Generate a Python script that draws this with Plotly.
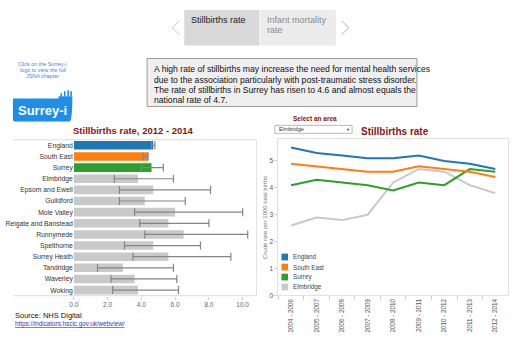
import plotly.graph_objects as go

# ---------------- data ----------------
areas = ["England", "South East", "Surrey", "Elmbridge", "Epsom and Ewell", "Guildford",
         "Mole Valley", "Reigate and Banstead", "Runnymede", "Spelthorne", "Surrey Heath",
         "Tandridge", "Waverley", "Woking"]
rate_2012_2014 = [4.7, 4.4, 4.6, 3.8, 4.7, 4.2, 6.0, 5.6, 6.5, 4.7, 5.6, 2.9, 3.6, 3.8]
ci_lower = [4.6, 4.1, 4.0, 2.4, 2.7, 2.7, 3.6, 3.9, 4.2, 3.0, 3.5, 1.4, 2.2, 2.3]
ci_upper = [4.8, 4.4, 5.3, 5.9, 8.1, 6.6, 10.0, 8.0, 10.3, 7.5, 9.3, 5.9, 6.1, 6.2]

periods = ["2004 - 2006", "2005 - 2007", "2006 - 2008", "2007 - 2009", "2008 - 2010",
           "2009 - 2011", "2010 - 2012", "2011 - 2013", "2012 - 2014"]
england = [5.5, 5.3, 5.2, 5.1, 5.1, 5.2, 5.0, 4.9, 4.7]
south_east = [4.9, 4.8, 4.7, 4.6, 4.6, 4.8, 4.7, 4.6, 4.4]
surrey = [4.1, 4.3, 4.2, 4.1, 3.9, 4.2, 4.1, 4.7, 4.6]
elmbridge = [2.6, 2.9, 2.8, 3.0, 4.2, 4.7, 4.6, 4.1, 3.8]

x_ticks_bar = [0, 2, 4, 6, 8, 10]
y_ticks_line = [0, 1, 2, 3, 4, 5]

# ---------------- styles ----------------
W, H = 515, 341
FONT = "Arial, Liberation Sans, sans-serif"
DARKRED = "#8b1414"
COL = {"England": "#1f77b4", "South East": "#ff7f0e", "Surrey": "#2ca02c", "other": "#c9c9c9"}


def fx(x):
    return x / W


def fy(y):
    return 1 - y / H


bar_colors = [COL.get(a, COL["other"]) for a in areas]
err_plus = [u - v for u, v in zip(ci_upper, rate_2012_2014)]
err_minus = [v - l for v, l in zip(rate_2012_2014, ci_lower)]

fig = go.Figure()

fig.add_trace(go.Bar(
    x=rate_2012_2014, y=areas, orientation="h", width=0.77,
    marker=dict(color=bar_colors, line=dict(width=0)),
    error_x=dict(type="data", symmetric=False, array=err_plus, arrayminus=err_minus,
                 color="#858585", thickness=1.2, width=4),
    xaxis="x", yaxis="y", showlegend=False, hoverinfo="x+y",
))

series = [("Elmbridge", elmbridge, COL["other"]), ("Surrey", surrey, COL["Surrey"]),
          ("South East", south_east, COL["South East"]), ("England", england, COL["England"])]
for name, vals, c in series:
    fig.add_trace(go.Scatter(
        x=periods, y=vals, mode="lines", name=name, line=dict(color=c, width=2),
        xaxis="x2", yaxis="y2", showlegend=False,
    ))

shapes = []
annotations = []


def rect(x0, y0, x1, y1, fill, line="rgba(0,0,0,0)", lw=0):
    shapes.append(dict(type="rect", xref="paper", yref="paper", x0=fx(x0), x1=fx(x1),
                       y0=fy(y0), y1=fy(y1), fillcolor=fill, line=dict(color=line, width=lw),
                       layer="below"))


def hline(x0, x1, y, color, lw=1):
    shapes.append(dict(type="line", xref="paper", yref="paper", x0=fx(x0), x1=fx(x1),
                       y0=fy(y), y1=fy(y), line=dict(color=color, width=lw)))


def vline(x, y0, y1, color, lw=1):
    shapes.append(dict(type="line", xref="paper", yref="paper", x0=fx(x), x1=fx(x),
                       y0=fy(y0), y1=fy(y1), line=dict(color=color, width=lw)))


def text(x, y, s, size, color="#000", xanchor="left", yanchor="middle", bold=False, angle=0):
    annotations.append(dict(xref="paper", yref="paper", x=fx(x), y=fy(y), text=("<b>%s</b>" % s) if bold else s,
                            showarrow=False, xanchor=xanchor, yanchor=yanchor, textangle=angle,
                            font=dict(family=FONT, size=size, color=color), align="left"))


# header tabs
rect(181, 10, 257, 46, "#d9d9d9")
rect(258, 10, 334, 46, "#ececec")
text(186, 20, "Stillbirths rate", 9, "#1a1a1a")
text(263, 20, "Infant mortality", 9, "#8a8a8a")
text(263, 30, "rate", 9, "#8a8a8a")
shapes.append(dict(type="path", xref="paper", yref="paper",
                   path="M %f %f L %f %f L %f %f" % (fx(176), fy(21), fx(169), fy(28), fx(176), fy(35)),
                   line=dict(color="#c8c8c8", width=1)))
shapes.append(dict(type="path", xref="paper", yref="paper",
                   path="M %f %f L %f %f L %f %f" % (fx(340), fy(21), fx(347), fy(28), fx(340), fy(35)),
                   line=dict(color="#b5b5b5", width=1)))

# description box
rect(143.5, 59, 416, 107.5, "#efefef", "#9a9a9a", 1)
desc = ["A high rate of stillbirths may increase the need for mental health services",
        "due to the association particularly with post-traumatic stress disorder.",
        "The rate of stillbirths in Surrey has risen to 4.6 and almost equals the",
        "national rate of 4.7."]
for i, line in enumerate(desc):
    text(148, 70 + i * 10.3, line, 8.6, "#111")

# logo + click text
for i, s in enumerate(["Click on the Surrey-i", "logo to view the full", "JSNA chapter"]):
    text(38, 65 + i * 5.9, s, 5.4, "#4f7fd9", xanchor="center")
shapes.append(dict(type="path", xref="paper", yref="paper",
                   path="M %f %f L %f %f L %f %f L %f %f Q %f %f %f %f L %f %f Q %f %f %f %f Z" % (
                       fx(8), fy(99.5), fx(54), fy(99.5), fx(54), fy(97), fx(68), fy(97),
                       fx(68), fy(122.7), fx(65), fy(122.7), fx(11), fy(122.7),
                       fx(8), fy(122.7), fx(8), fy(120)),
                   fillcolor="#1f8ee6", line=dict(width=0)))
for bx, by in [(56, 94), (59.5, 92), (63, 91), (66, 92)]:
    rect(bx, by, bx + 1.6, 97, "#1f8ee6")
text(38, 111.5, "Surrey-i", 13, "#ffffff", xanchor="center", bold=True)

# left chart frame and title
hline(8, 254, 141, "#dcdcdc")
hline(8, 254, 298.3, "#dcdcdc")
vline(254, 141, 298.3, "#e4e4e4")
text(130, 132, "Stillbirths rate, 2012 - 2014", 9.5, DARKRED, xanchor="center", bold=True)

# right chart title, dropdown
text(313, 119.5, "Select an area", 6.5, DARKRED, xanchor="center", bold=True)
rect(272.5, 126.5, 350.5, 134.5, "#ffffff", "#a8a8a8", 0.8)
text(275, 130.5, "Elmbridge", 5.5, "#333")
text(346, 130.8, "▼", 4, "#333", xanchor="center")
text(357, 133, "Stillbirths rate", 10, DARKRED, bold=True)
text(262, 219.5, "Crude rate per 1000 total births", 6, "#777", xanchor="center", angle=-90)

# legend (right chart)
legend_items = ["England", "South East", "Surrey", "Elmbridge"]
for i, name in enumerate(legend_items):
    yc = 259.3 + i * 10.1
    rect(279.2, yc - 3.4, 285.8, yc + 3.4, COL.get(name, COL["other"]))
    text(289, yc, name, 6.3, "#444")

# source
text(8, 318, "Source: NHS Digital", 7.5, "#111")
text(8, 326.5, '<span style="text-decoration:underline">https://indicators.hscic.gov.uk/webview/</span>',
     6.3, "#1a3fbf")

fig.update_layout(
    width=W, height=H, margin=dict(l=0, r=0, t=0, b=0),
    paper_bgcolor="#ffffff", plot_bgcolor="rgba(0,0,0,0)",
    font=dict(family=FONT, color="#444"),
    bargap=0.23,
    xaxis=dict(domain=[fx(69.5), fx(254)], range=[0, (254 - 69.5) / 17.05],
               tickvals=x_ticks_bar, ticktext=["%.1f" % v for v in x_ticks_bar],
               ticks="outside", ticklen=3, tickcolor="#d0d0d0",
               tickfont=dict(size=6.5, color="#666"), showgrid=False, zeroline=False,
               showline=False, anchor="y", fixedrange=True),
    yaxis=dict(domain=[fy(298.3), fy(141)], range=[13.5, -0.5], type="category",
               tickfont=dict(size=6.8, color="#333"), showgrid=False, zeroline=False,
               ticks="", anchor="x", fixedrange=True),
    xaxis2=dict(domain=[fx(276), fx(508)], range=[-0.5, 8.5], type="category",
                tickangle=-90, tickfont=dict(size=6.3, color="#555"),
                ticks="outside", tickson="boundaries", ticklen=4, tickcolor="#d0d0d0",
                showline=True, mirror=True, linecolor="#e2e2e2", linewidth=1,
                showgrid=False, zeroline=False, anchor="y2", fixedrange=True),
    yaxis2=dict(domain=[fy(298), fy(140.7)], range=[0, 5.8], tickvals=y_ticks_line,
                tickfont=dict(size=6.5, color="#555"), ticks="outside", ticklen=3,
                tickcolor="#d0d0d0", showline=True, mirror=True, linecolor="#e2e2e2",
                linewidth=1, showgrid=False, zeroline=False, anchor="x2", fixedrange=True),
    shapes=shapes, annotations=annotations, showlegend=False,
)

fig.write_html("out.html", config={"displayModeBar": False})
